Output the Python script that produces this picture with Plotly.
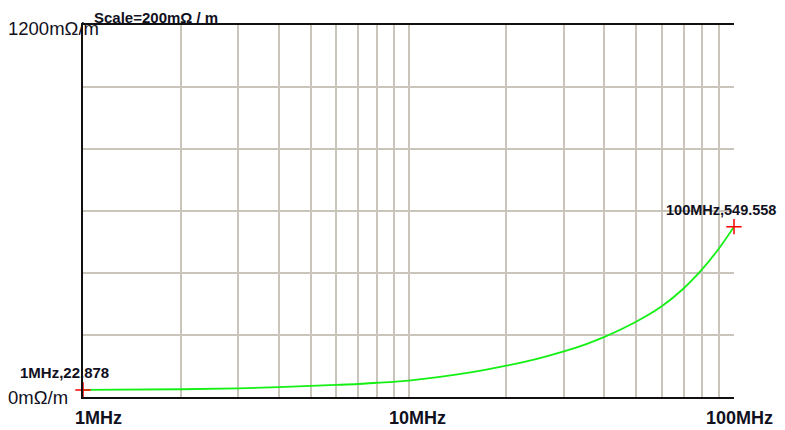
import plotly.graph_objects as go
import numpy as np

# Data (frequency in MHz, value in mOhm/m)
freq_mhz = [1, 2, 3, 4, 5, 6, 7, 8, 9, 10, 15, 20, 25, 30, 35, 40, 50, 60, 70, 80, 90, 100]
value_mohm = [22.878, 25, 28, 32, 36, 39, 42, 46, 49, 53, 77, 101, 124, 147, 170, 194, 243, 293, 350, 413, 480, 549.558]

marker_freq = [1, 100]
marker_vals = [22.878, 549.558]
marker_labels = ["1MHz,22.878", "100MHz,549.558"]

x_tick_vals = [1, 10, 100]
x_tick_labels = ["1MHz", "10MHz", "100MHz"]
x_grid_vals = [1, 2, 3, 4, 5, 6, 7, 8, 9, 10, 20, 30, 40, 50, 60, 70, 80, 90, 100]
y_grid_vals = [0, 200, 400, 600, 800, 1000, 1200]
y_label_vals = [0, 1200]
y_label_texts = ["0mΩ/m", "1200mΩ/m"]
scale_text = "Scale=200mΩ / m"

FONT = "Arial, Liberation Sans, sans-serif"
TXT = "#10101e"
GRID = "#c9c5ba"

# page body has an 8px margin; the figure is sized/positioned to compensate
OFF = 8
PL, PT, PR, PB = 83 - OFF, 25 - OFF, 734 - OFF, 397.5 - OFF
W, H = 785 - OFF, 430 - OFF
PW = PR - PL

fig = go.Figure()
fig.add_trace(go.Scatter(x=freq_mhz, y=value_mohm, mode="lines",
                         line=dict(color="#14f014", width=1.8, shape="spline"),
                         hoverinfo="skip", showlegend=False))
fig.add_trace(go.Scatter(x=marker_freq, y=marker_vals, mode="markers",
                         marker=dict(symbol="cross-thin", size=11, line=dict(color="#ff0000", width=1.5)),
                         hoverinfo="skip", showlegend=False, cliponaxis=False))

annotations = []
# x tick labels
x_shifts = [15, 9, 5]
for v, t, s in zip(x_tick_vals, x_tick_labels, x_shifts):
    annotations.append(dict(x=np.log10(v), y=0, xref="x", yref="paper", text=t, showarrow=False,
                            xanchor="center", yanchor="middle", xshift=s, yshift=-21,
                            font=dict(family=FONT, size=18, color=TXT, weight="bold")))
# y labels
y_shifts = [0, -3]
for v, t, s in zip(y_label_vals, y_label_texts, y_shifts):
    annotations.append(dict(x=(8 - 83) / PW, y=v, xref="paper", yref="y", text=t, showarrow=False,
                            xanchor="left", yanchor="middle", xshift=-2, yshift=s,
                            font=dict(family=FONT, size=18.5, color=TXT)))
# scale text
annotations.append(dict(x=(94 - 83) / PW, y=1, xref="paper", yref="paper", text=scale_text,
                        showarrow=False, xanchor="left", yanchor="middle", xshift=-2, yshift=8,
                        font=dict(family=FONT, size=15, color=TXT, weight="bold")))
# marker labels
lab_shift = [(-65, 17), (-70, 16.5)]
lab_size = [15, 14.5]
for f, v, t, (dx, dy), fs in zip(marker_freq, marker_vals, marker_labels, lab_shift, lab_size):
    annotations.append(dict(x=np.log10(f), y=v, xref="x", yref="y", text=t, showarrow=False,
                            xanchor="left", yanchor="middle", xshift=dx, yshift=dy,
                            font=dict(family=FONT, size=fs, color=TXT, weight="bold")))

fig.update_layout(
    width=W, height=H,
    margin=dict(l=PL, r=W - PR, t=PT, b=H - PB, pad=0),
    paper_bgcolor="white", plot_bgcolor="white",
    annotations=annotations,
    xaxis=dict(type="log", range=[0, 2], tickvals=x_grid_vals, showticklabels=False,
               ticks="", showgrid=True, gridcolor=GRID, gridwidth=1.6,
               showline=True, linecolor="#111111", linewidth=1.6, mirror=True, zeroline=False),
    yaxis=dict(range=[0, 1200], tickvals=y_grid_vals, showticklabels=False, ticks="",
               showgrid=True, gridcolor=GRID, gridwidth=1.6,
               showline=True, linecolor="#111111", linewidth=1.6, mirror=False, zeroline=False),
)

fig.write_html("out.html")
